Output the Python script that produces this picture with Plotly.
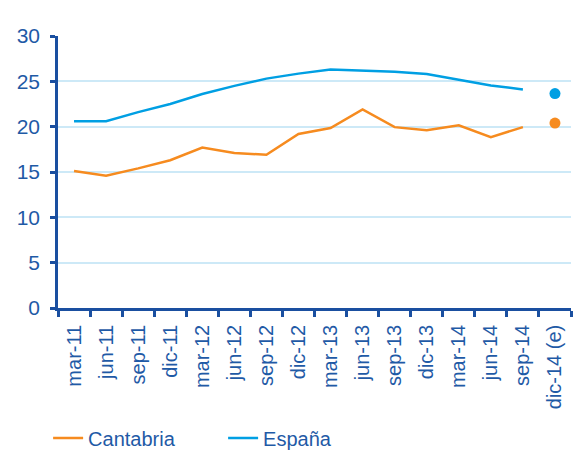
import plotly.graph_objects as go

periodos = ["mar-11", "jun-11", "sep-11", "dic-11", "mar-12", "jun-12", "sep-12", "dic-12",
            "mar-13", "jun-13", "sep-13", "dic-13", "mar-14", "jun-14", "sep-14"]
periodo_est = ["dic-14 (e)"]

cantabria = [15.1, 14.6, 15.4, 16.3, 17.7, 17.1, 16.9, 19.2,
             19.85, 21.9, 19.95, 19.6, 20.15, 18.85, 19.95]
espana = [20.6, 20.6, 21.6, 22.5, 23.6, 24.5, 25.3, 25.85,
          26.3, 26.15, 26.05, 25.8, 25.2, 24.55, 24.1]
cantabria_est = [20.4]
espana_est = [23.65]

naranja = "#F68B1F"
azul = "#009FE3"
azul_oscuro = "#1A4FA0"
texto = "#1F5AA6"

fig = go.Figure()
fig.add_trace(go.Scatter(x=periodos, y=cantabria, mode="lines", name="Cantabria",
                         line=dict(color=naranja, width=2.5)))
fig.add_trace(go.Scatter(x=periodos, y=espana, mode="lines", name="España",
                         line=dict(color=azul, width=2.5)))
# estimaciones dic-14, solo punto
fig.add_trace(go.Scatter(x=periodo_est, y=cantabria_est, mode="markers", showlegend=False,
                         marker=dict(color=naranja, size=11)))
fig.add_trace(go.Scatter(x=periodo_est, y=espana_est, mode="markers", showlegend=False,
                         marker=dict(color=azul, size=11)))

# la pagina tiene 8px de margen en body, figura algo mas pequeña
fig.update_layout(
    width=573, height=442,
    margin=dict(l=50, r=10, t=28, b=142, autoexpand=False),
    paper_bgcolor="white", plot_bgcolor="white",
    font=dict(family="Liberation Sans, Arial", size=20, color=texto),
    legend=dict(orientation="h", xref="container", yref="container",
                x=0.07, xanchor="left", y=0.027, yanchor="middle",
                font=dict(size=20, color=texto), itemwidth=30,
                entrywidth=130, entrywidthmode="pixels"),
)
fig.update_xaxes(type="category", categoryorder="array", categoryarray=periodos + periodo_est,
                 range=[-0.5, 15.5], tickangle=-90, tickson="boundaries",
                 ticks="outside", ticklen=6, tickwidth=2.5, tickcolor=azul_oscuro,
                 showline=True, linecolor=azul_oscuro, linewidth=2.5, automargin=False,
                 ticklabelstandoff=6,
                 showgrid=False, tickfont=dict(size=20, color=texto))
fig.update_yaxes(range=[0, 30], dtick=5, ticks="outside", ticklen=5, tickwidth=2.5,
                 tickcolor=azul_oscuro, showline=True, linecolor=azul_oscuro, linewidth=2.5,
                 showgrid=True, gridcolor="#CDE9F7", gridwidth=1.5, zeroline=False,
                 automargin=False, ticklabelstandoff=6,
                 tickfont=dict(size=21, color=texto))

fig.write_html("out.html")
